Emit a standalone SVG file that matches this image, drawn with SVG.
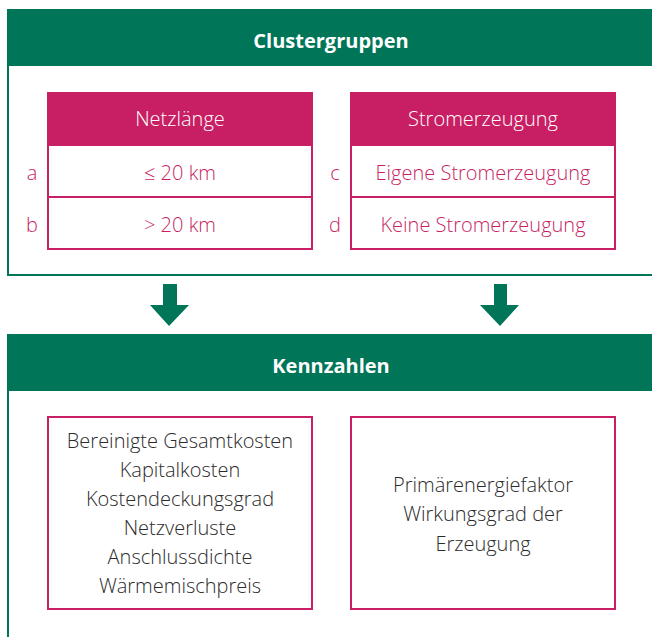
<svg xmlns="http://www.w3.org/2000/svg" width="652" height="637" viewBox="0 0 652 637">
<style>
.panel{fill:#fff;stroke:#007558;stroke-width:2}
.hdr{fill:#007558}
.title{font-family:"Open Sans","Noto Sans",sans-serif;font-weight:700;font-size:20px;fill:#fff;text-anchor:middle}
.thead{fill:#c81f64}
.cell{fill:#fff;stroke:#c81f64;stroke-width:2}
.th{font-family:"Open Sans","Noto Sans",sans-serif;font-weight:300;font-size:20px;fill:#fff;text-anchor:middle}
.td{font-family:"Open Sans","Noto Sans",sans-serif;font-weight:300;font-size:20px;fill:#c81f64;text-anchor:middle}
.lbl{font-family:"Open Sans","Noto Sans",sans-serif;font-weight:300;font-size:20px;fill:#c81f64;text-anchor:middle}
.box{fill:#fff;stroke:#c81f64;stroke-width:2}
.txt{font-family:"Open Sans","Noto Sans",sans-serif;font-weight:300;font-size:20px;fill:#2b2b2b;text-anchor:middle}
.arrow{fill:#007558}
</style>
<rect width="652" height="637" fill="#fff"/>
<g id="clustergruppen">
<rect class="panel" x="8" y="10" width="660" height="265"/>
<rect class="hdr" x="7" y="9" width="660" height="57"/>
<text class="title" x="331" y="48">Clustergruppen</text>
</g>
<g id="netzlaenge">
<rect class="thead" x="47" y="92" width="266" height="53"/>
<text class="th" x="180" y="126">Netzlänge</text>
<rect class="cell" x="48" y="145" width="264" height="52"/>
<text class="td" x="180" y="180">≤ 20 km</text>
<rect class="cell" x="48" y="197" width="264" height="52"/>
<text class="td" x="180" y="232">&gt; 20 km</text>
<text class="lbl" x="32" y="180">a</text>
<text class="lbl" x="32" y="232">b</text>
</g>
<g id="stromerzeugung">
<rect class="thead" x="350" y="92" width="266" height="53"/>
<text class="th" x="483" y="126">Stromerzeugung</text>
<rect class="cell" x="351" y="145" width="264" height="52"/>
<text class="td" x="483" y="180">Eigene Stromerzeugung</text>
<rect class="cell" x="351" y="197" width="264" height="52"/>
<text class="td" x="483" y="232">Keine Stromerzeugung</text>
<text class="lbl" x="335" y="180">c</text>
<text class="lbl" x="335" y="232">d</text>
</g>
<g id="connectors">
<polygon class="arrow" points="163,284 177,284 177,305 189,305 169,326 150,305 163,305"/>
<polygon class="arrow" points="494,284 507,284 507,305 519,305 500,326 480,305 494,305"/>
</g>
<g id="kennzahlen">
<rect class="panel" x="8" y="335" width="660" height="320"/>
<rect class="hdr" x="7" y="334" width="660" height="57"/>
<text class="title" x="331" y="373">Kennzahlen</text>
</g>
<g id="kennzahlen-netz">
<rect class="box" x="48" y="417" width="264" height="192"/>
<text class="txt" x="180" y="448">Bereinigte Gesamtkosten</text>
<text class="txt" x="180" y="477">Kapitalkosten</text>
<text class="txt" x="180" y="506">Kostendeckungsgrad</text>
<text class="txt" x="180" y="535">Netzverluste</text>
<text class="txt" x="180" y="564">Anschlussdichte</text>
<text class="txt" x="180" y="593">Wärmemischpreis</text>
</g>
<g id="kennzahlen-strom">
<rect class="box" x="351" y="417" width="264" height="192"/>
<text class="txt" x="483" y="492">Primärenergiefaktor</text>
<text class="txt" x="483" y="521">Wirkungsgrad der</text>
<text class="txt" x="483" y="551">Erzeugung</text>
</g>
</svg>
